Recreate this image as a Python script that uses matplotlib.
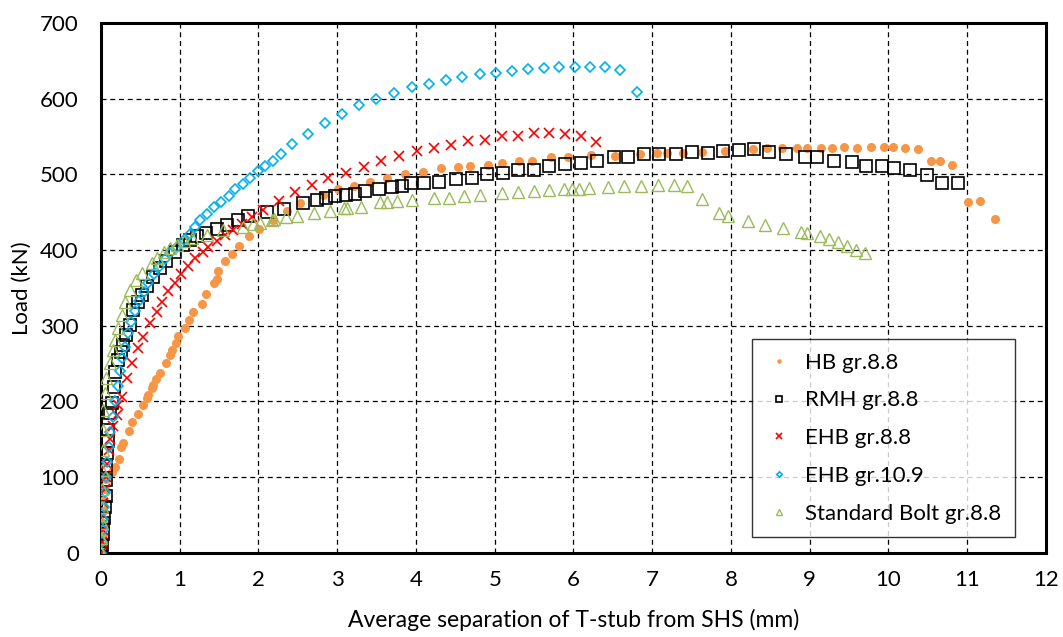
import matplotlib
matplotlib.use("Agg")
import matplotlib.pyplot as plt

plt.rcParams['font.family'] = ['Lato', 'DejaVu Sans']

# HB gr.8.8
hb_x = [0, 0.01, 0.02, 0.02, 0.03, 0.04, 0.05, 0.07, 0.14, 0.18, 0.23, 0.26, 0.28, 0.36, 0.40,
        0.47, 0.53, 0.58, 0.60, 0.65, 0.66, 0.70, 0.75, 0.83, 0.88, 0.90, 0.95, 0.98, 1.07, 1.12,
        1.17, 1.28, 1.33, 1.43, 1.47, 1.48, 1.57, 1.67, 1.75, 1.88, 2.01, 2.18, 2.36, 2.53, 2.82,
        3.01, 3.21, 3.42, 3.63, 3.86, 4.09, 4.32, 4.53, 4.69, 4.91, 5.09, 5.31, 5.47, 5.71, 5.93,
        6.22, 6.53, 6.84, 7.06, 7.19, 7.39, 7.63, 7.92, 8.28, 8.46, 8.65, 8.84, 8.97, 9.14, 9.28,
        9.44, 9.60, 9.78, 9.94, 10.06, 10.21, 10.37, 10.54, 10.65, 10.81, 11.01, 11.16, 11.35]
hb_y = [0, 10, 25, 40, 55, 70, 85, 97, 107, 114, 124, 140, 145, 161, 173,
        184, 195, 205, 208, 218, 222, 230, 238, 251, 262, 268, 277, 287, 297, 308,
        318, 329, 342, 356, 362, 373, 385, 395, 406, 418, 428, 440, 452, 462, 473,
        480, 484, 490, 495, 501, 503, 508, 510, 511, 513, 515, 518, 518, 523, 523,
        526, 524, 527, 528, 528, 528, 530, 531, 533, 535, 535, 535, 535, 535, 535,
        536, 535, 536, 536, 536, 535, 533, 518, 518, 512, 464, 465, 441]

# RMH gr.8.8
rmh_x = [0, 0.01, 0.02, 0.03, 0.04, 0.05, 0.06, 0.06, 0.07, 0.08, 0.09, 0.09, 0.11, 0.14, 0.17,
         0.18, 0.22, 0.25, 0.28, 0.32, 0.37, 0.41, 0.47, 0.52, 0.58, 0.66, 0.75, 0.83, 0.94, 1.04,
         1.13, 1.22, 1.33, 1.47, 1.60, 1.74, 1.87, 2.11, 2.32, 2.57, 2.74, 2.86, 2.97, 3.11, 3.23,
         3.35, 3.53, 3.69, 3.82, 3.94, 4.10, 4.29, 4.51, 4.71, 4.90, 5.10, 5.30, 5.50, 5.69, 5.89,
         6.10, 6.30, 6.51, 6.69, 6.90, 7.09, 7.30, 7.50, 7.71, 7.90, 8.10, 8.29, 8.48, 8.70, 8.94,
         9.09, 9.31, 9.54, 9.72, 9.92, 10.07, 10.27, 10.49, 10.68, 10.88]
rmh_y = [0, 10, 25, 40, 46, 60, 75, 96, 115, 132, 148, 162, 185, 198, 219,
         239, 255, 265, 275, 288, 301, 321, 331, 341, 352, 365, 376, 385, 397, 407,
         413, 418, 423, 428, 433, 440, 445, 450, 454, 462, 466, 469, 471, 473, 474,
         478, 481, 483, 485, 489, 489, 490, 494, 495, 501, 502, 506, 506, 511, 514,
         515, 517, 523, 523, 527, 527, 527, 530, 528, 531, 532, 534, 530, 527, 523,
         523, 517, 516, 511, 511, 508, 506, 499, 489, 489]

# EHB gr.8.8
ehb88_x = [0, 0.01, 0.02, 0.03, 0.03, 0.05, 0.07, 0.08, 0.10, 0.12, 0.15, 0.20, 0.21, 0.27, 0.33,
           0.39, 0.47, 0.53, 0.62, 0.71, 0.77, 0.85, 0.94, 1.02, 1.11, 1.19, 1.30, 1.36, 1.47, 1.57,
           1.68, 1.79, 1.92, 2.06, 2.26, 2.46, 2.68, 2.88, 3.11, 3.34, 3.56, 3.79, 4.01, 4.23, 4.45,
           4.66, 4.88, 5.09, 5.30, 5.50, 5.69, 5.89, 6.10, 6.29]
ehb88_y = [0, 15, 30, 50, 66, 85, 100, 118, 136, 151, 167, 182, 195, 206, 231,
           251, 271, 285, 304, 318, 331, 346, 356, 369, 379, 389, 398, 404, 412, 420,
           427, 435, 444, 453, 465, 477, 486, 495, 502, 510, 518, 524, 531, 535, 539,
           544, 546, 551, 551, 555, 555, 553, 551, 543]

# EHB gr.10.9
ehb109_x = [0, 0.01, 0.02, 0.03, 0.04, 0.05, 0.06, 0.08, 0.10, 0.12, 0.15, 0.18, 0.21, 0.24, 0.27,
            0.30, 0.34, 0.38, 0.43, 0.48, 0.54, 0.60, 0.67, 0.74, 0.81, 0.88, 0.96, 1.05, 1.13, 1.20,
            1.26, 1.34, 1.44, 1.52, 1.62, 1.70, 1.80, 1.89, 1.99, 2.08, 2.18, 2.28, 2.43, 2.63, 2.85,
            3.06, 3.28, 3.49, 3.72, 3.95, 4.17, 4.38, 4.59, 4.81, 5.02, 5.22, 5.42, 5.63, 5.82, 6.02,
            6.21, 6.40, 6.59, 6.81]
ehb109_y = [0, 15, 30, 45, 60, 80, 100, 120, 140, 160, 180, 200, 220, 240, 258,
            272, 290, 305, 320, 333, 345, 357, 368, 378, 388, 396, 404, 413, 421, 430,
            440, 448, 457, 464, 472, 480, 487, 495, 504, 511, 518, 527, 540, 553, 568,
            580, 591, 599, 608, 615, 620, 625, 629, 633, 634, 637, 639, 641, 642, 642,
            642, 642, 638, 609]

# Standard Bolt gr.8.8
std_x = [0, 0.0, 0.01, 0.01, 0.01, 0.01, 0.02, 0.03, 0.03, 0.05, 0.07, 0.11, 0.15, 0.18, 0.22,
         0.27, 0.30, 0.37, 0.44, 0.52, 0.65, 0.71, 0.80, 0.88, 0.96, 1.05, 1.15, 1.34, 1.55, 1.80,
         1.93, 2.02, 2.17, 2.20, 2.35, 2.49, 2.71, 2.91, 3.09, 3.13, 3.30, 3.54, 3.63, 3.76, 3.95,
         4.23, 4.42, 4.61, 4.81, 5.09, 5.30, 5.50, 5.69, 5.88, 5.98, 6.07, 6.20, 6.44, 6.64, 6.86,
         7.07, 7.28, 7.44, 7.63, 7.85, 7.96, 8.22, 8.43, 8.66, 8.89, 8.97, 9.13, 9.25, 9.36, 9.47,
         9.59, 9.70]
std_y = [0, 20, 40, 60, 84, 110, 136, 163, 189, 211, 231, 251, 268, 281, 297,
         314, 332, 347, 360, 370, 383, 390, 398, 403, 407, 412, 416, 420, 427, 431,
         434, 436, 440, 441, 444, 445, 449, 452, 455, 455, 457, 463, 464, 465, 466,
         469, 469, 472, 473, 476, 477, 478, 479, 480, 480, 481, 482, 483, 484, 485,
         486, 486, 485, 467, 449, 445, 439, 433, 429, 424, 422, 418, 414, 410, 405,
         400, 396]

fig = plt.figure(figsize=(10.63, 6.37), dpi=100)
ax = fig.add_axes([0.095, 0.132, 0.889, 0.832])

ax.plot(hb_x, hb_y, 'o', color='#F79646', markersize=6.5, markeredgewidth=0,
        label='HB gr.8.8', zorder=3)
ax.plot(rmh_x, rmh_y, 's', color='black', markerfacecolor='none', markersize=8.5,
        markeredgewidth=1.2, label='RMH gr.8.8', zorder=3)
ax.plot(ehb88_x, ehb88_y, 'x', color='#FF0000', markersize=7.5, markeredgewidth=1.2,
        label='EHB gr.8.8', zorder=3)
ax.plot(ehb109_x, ehb109_y, 'D', color='#00B0F0', markerfacecolor='none', markersize=5.5,
        markeredgewidth=1.2, label='EHB gr.10.9', zorder=3)
ax.plot(std_x, std_y, '^', color='#9BBB59', markerfacecolor='none', markersize=8,
        markeredgewidth=1.0, label='Standard Bolt gr.8.8', zorder=3)

ax.set_xlim(0, 12)
ax.set_ylim(0, 700)
ax.set_xticks(range(0, 13))
ax.set_yticks(range(0, 701, 100))
ax.grid(True, color='black', linestyle=(0, (4, 3)), linewidth=0.9)
ax.tick_params(length=0, labelsize=16)
ax.tick_params(axis='x', pad=12)
ax.tick_params(axis='y', pad=16)

for s in ax.spines.values():
    s.set_linewidth(2.2)
    s.set_color('black')

ax.set_xlabel('Average separation of T-stub from SHS (mm)', fontsize=16.5, labelpad=14)
ax.set_ylabel('Load (kN)', fontsize=16, labelpad=6)

leg = ax.legend(loc='lower right', bbox_to_anchor=(0.967, 0.03), fontsize=16,
                markerscale=0.5, frameon=True, fancybox=False, handlelength=1.2,
                handletextpad=0.6, borderpad=0.6, labelspacing=0.8, borderaxespad=0)
leg.get_frame().set_edgecolor('black')
leg.get_frame().set_linewidth(1.0)

fig.savefig('out.png', dpi=100)
